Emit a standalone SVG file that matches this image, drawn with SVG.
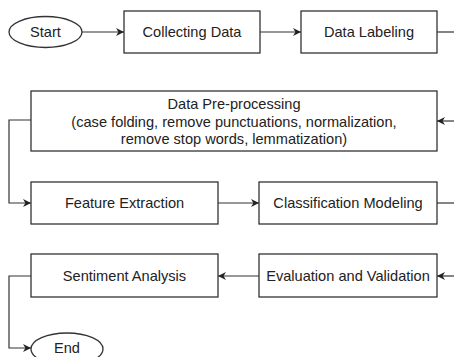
<svg xmlns="http://www.w3.org/2000/svg" width="454" height="357" viewBox="0 0 454 357">
  <defs>
    <marker id="arrow" viewBox="0 0 10 10" refX="10" refY="5" markerWidth="8" markerHeight="8" markerUnits="userSpaceOnUse" orient="auto">
      <path d="M0,0 L10,5 L0,10 L3,5 Z" fill="#222"/>
    </marker>
  </defs>
  <style>
    .box { fill: #fff; stroke: #333; stroke-width: 1.3; }
    .lbl { font-family: "Liberation Sans", Arial, sans-serif; font-size: 14.6px; fill: #222; text-anchor: middle; dominant-baseline: central; }
    .edge { fill: none; stroke: #333; stroke-width: 1.2; }
  </style>
  <rect width="454" height="357" fill="#fff"/>

  <g id="connectors">
    <path class="edge" d="M82,32 H124" marker-end="url(#arrow)"/>
    <path class="edge" d="M260,32 H301" marker-end="url(#arrow)"/>
    <path class="edge" d="M437,32 H454"/>
    <path class="edge" d="M454,121 H437" marker-end="url(#arrow)"/>
    <path class="edge" d="M31,120 H9 V203 H31" marker-end="url(#arrow)"/>
    <path class="edge" d="M218,203 H259" marker-end="url(#arrow)"/>
    <path class="edge" d="M437,203 H454"/>
    <path class="edge" d="M454,276 H437" marker-end="url(#arrow)"/>
    <path class="edge" d="M259,276 H218" marker-end="url(#arrow)"/>
    <path class="edge" d="M31,276 H9 V348 H31" marker-end="url(#arrow)"/>
  </g>

  <g id="start">
    <ellipse class="box" cx="45.5" cy="32" rx="36.5" ry="15.5"/>
    <text class="lbl" x="45.5" y="32">Start</text>
  </g>
  <g id="collecting-data">
    <rect class="box" x="124" y="11" width="136" height="42"/>
    <text class="lbl" x="192" y="32">Collecting Data</text>
  </g>
  <g id="data-labeling">
    <rect class="box" x="301" y="11" width="136" height="42"/>
    <text class="lbl" x="369" y="32">Data Labeling</text>
  </g>
  <g id="pre-processing">
    <rect class="box" x="31" y="91" width="406" height="60"/>
    <text class="lbl" x="234" y="104">Data Pre-processing</text>
    <text class="lbl" x="234" y="121.5">(case folding, remove punctuations, normalization,</text>
    <text class="lbl" x="234" y="139">remove stop words, lemmatization)</text>
  </g>
  <g id="feature-extraction">
    <rect class="box" x="31" y="182" width="187" height="42"/>
    <text class="lbl" x="124.5" y="203">Feature Extraction</text>
  </g>
  <g id="classification-modeling">
    <rect class="box" x="259" y="182" width="178" height="42"/>
    <text class="lbl" x="348" y="203">Classification Modeling</text>
  </g>
  <g id="sentiment-analysis">
    <rect class="box" x="31" y="254" width="187" height="43"/>
    <text class="lbl" x="124.5" y="276">Sentiment Analysis</text>
  </g>
  <g id="evaluation-validation">
    <rect class="box" x="259" y="254" width="178" height="43"/>
    <text class="lbl" x="348" y="276">Evaluation and Validation</text>
  </g>
  <g id="end">
    <ellipse class="box" cx="67" cy="349" rx="36" ry="16"/>
    <text class="lbl" x="67" y="348">End</text>
  </g>
</svg>
